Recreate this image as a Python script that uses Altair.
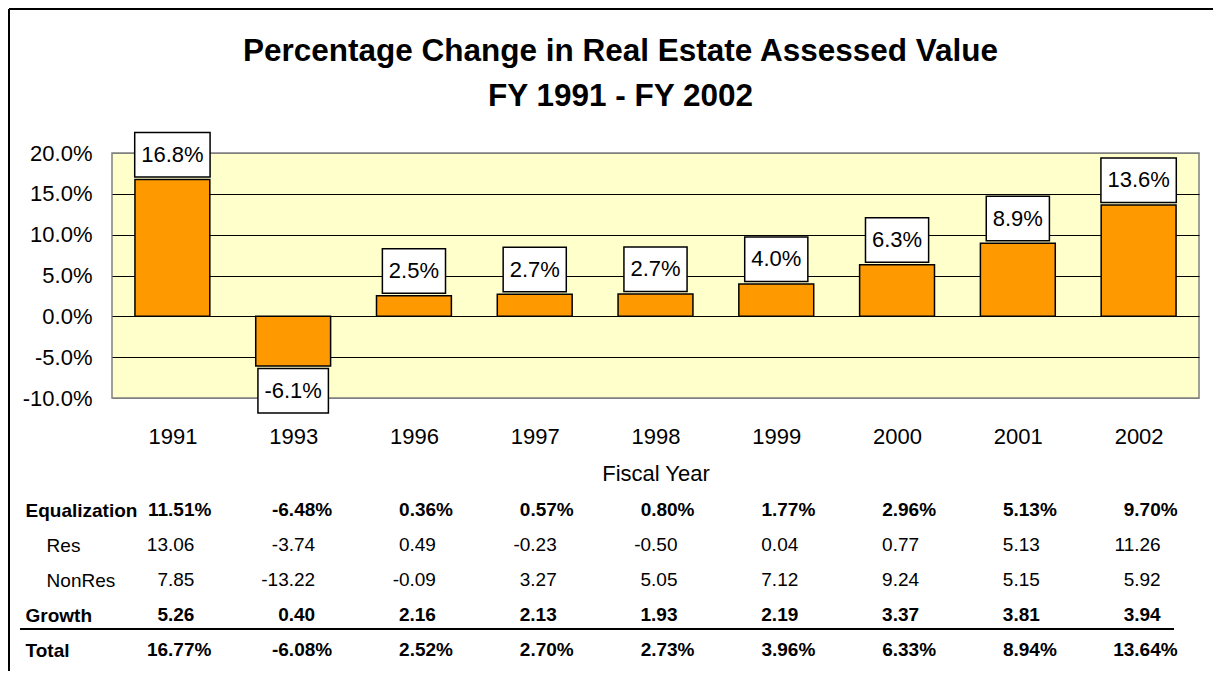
import altair as alt
import pandas as pd

# ---------------- data ----------------
years = ['1991', '1993', '1996', '1997', '1998', '1999', '2000', '2001', '2002']
total = [16.77, -6.08, 2.52, 2.70, 2.73, 3.96, 6.33, 8.94, 13.64]
equalization = [11.51, -6.48, 0.36, 0.57, 0.80, 1.77, 2.96, 5.13, 9.70]
res = [13.06, -3.74, 0.49, -0.23, -0.50, 0.04, 0.77, 5.13, 11.26]
nonres = [7.85, -13.22, -0.09, 3.27, 5.05, 7.12, 9.24, 5.15, 5.92]
growth = [5.26, 0.40, 2.16, 2.13, 1.93, 2.19, 3.37, 3.81, 3.94]
row_names = ['Equalization', 'Res', 'NonRes', 'Growth', 'Total']
y_ticks = [-10, -5, 0, 5, 10, 15, 20]
title_lines = ['Percentage Change in Real Estate Assessed Value', 'FY 1991 - FY 2002']

# ---------------- layout constants ----------------
W, H = 1087, 245
PXU = W / len(years)          # pixels per category unit
BAR_HALF = 0.31
FONT = 'Liberation Sans'
MINUS = '\u2212'
PLOT_BG = '#FFFFCC'


def fmt(expr, spec):
    # d3-format emits a unicode minus; the reference uses a plain hyphen
    return f"replace(format({expr}, '{spec}'), '{MINUS}', '-')"


bars_df = pd.DataFrame({'idx': list(range(len(years))), 'year': years, 'v': total})
rows_data = {'Equalization': equalization, 'Res': res, 'NonRes': nonres,
             'Growth': growth, 'Total': total}
table_df = pd.DataFrame([{'idx': i, 'row': r, 'val': vals[i]}
                         for r, vals in rows_data.items() for i in range(len(years))])
deco_df = pd.DataFrame({'a': [0]})

year_expr = "[" + ",".join(f"'{y}'" for y in years) + "][datum.value]"

x_scale = alt.Scale(domain=[-0.5, len(years) - 0.5], nice=False, zero=False)
x_axis = alt.Axis(values=list(range(len(years))), labelExpr=year_expr, title='Fiscal Year',
                  grid=False, domain=False, ticks=False, tickSize=0, labelPadding=28,
                  labelFontSize=22, labelColor='black', labelFont=FONT, labelFlush=False,
                  labelOverlap=False, titleFontSize=22, titleFontWeight='normal',
                  titleColor='black', titleFont=FONT, titlePadding=16)

y_scale = alt.Scale(domain=[-10, 20], nice=False, zero=False)
y_axis = alt.Axis(values=y_ticks, labelExpr=fmt('datum.value', '.1f') + " + '%'", title=None,
                  domain=False, ticks=False, tickSize=0, labelPadding=20, labelFontSize=22,
                  labelColor='black', labelFont=FONT, labelFlush=False, labelOverlap=False,
                  gridColor={'condition': {'test': 'datum.value == 20 || datum.value == -10',
                                           'value': '#808080'}, 'value': 'black'},
                  gridWidth=1, gridOpacity=1)


def xq(field):
    return alt.X(field, type='quantitative', scale=x_scale, axis=x_axis)


def yq(field):
    return alt.Y(field, type='quantitative', scale=y_scale, axis=y_axis)


base = alt.Chart(bars_df)

bars = base.transform_calculate(
    x1=f"datum.idx - {BAR_HALF}", x2=f"datum.idx + {BAR_HALF}"
).mark_rect(fill='#FF9900', stroke='black', strokeWidth=1.5).encode(
    x=xq('x1'), x2='x2:Q', y=yq('v'), y2=alt.datum(0)
)

lab_calc = base.transform_calculate(
    lab=fmt('datum.v', '.1f') + " + '%'"
).transform_calculate(
    neg="datum.v < 0 ? 1 : 0"
).transform_calculate(
    em="0.556 * (length(datum.lab) - 2 - datum.neg) + 1.167 + 0.333 * datum.neg"
).transform_calculate(
    hw=f"(22 * datum.em + 13) / 2 / {PXU}"
).transform_calculate(
    bx1="datum.idx - datum.hw", bx2="datum.idx + datum.hw"
)

box_pos = lab_calc.transform_filter("datum.v >= 0").mark_rect(
    fill='white', stroke='black', strokeWidth=1.5, yOffset=-2.5, y2Offset=-47
).encode(x=xq('bx1'), x2='bx2:Q', y=yq('v'), y2='v:Q')

box_neg = lab_calc.transform_filter("datum.v < 0").mark_rect(
    fill='white', stroke='black', strokeWidth=1.5, yOffset=2.5, y2Offset=47
).encode(x=xq('bx1'), x2='bx2:Q', y=yq('v'), y2='v:Q')

txt_pos = lab_calc.transform_filter("datum.v >= 0").mark_text(
    dy=-24.7, fontSize=22, baseline='middle', align='center', color='black', font=FONT
).encode(x=xq('idx'), y=yq('v'), text='lab:N')

txt_neg = lab_calc.transform_filter("datum.v < 0").mark_text(
    dy=24.7, fontSize=22, baseline='middle', align='center', color='black', font=FONT
).encode(x=xq('idx'), y=yq('v'), text='lab:N')

# decorative frame and table separator
deco = alt.Chart(deco_df)
frame_v = deco.mark_rule(color='black', strokeWidth=2).encode(
    x=alt.value(-103), y=alt.value(-144), y2=alt.value(540))
frame_h = deco.mark_rule(color='black', strokeWidth=2).encode(
    x=alt.value(-103), x2=alt.value(1120), y=alt.value(-144))
sep = deco.mark_rule(color='black', strokeWidth=2).encode(
    x=alt.value(-92), x2=alt.value(1062), y=alt.value(476))

main = alt.layer(frame_v, frame_h, sep, bars, box_pos, box_neg, txt_pos, txt_neg)

# ---------------- table ----------------
INDENT = '\u200b' + '\u00a0' * 4
label_expr = ("(datum.value == 'Res' || datum.value == 'NonRes') ? "
              f"'{INDENT}' + datum.value : datum.value")
t_axis = alt.Axis(orient='left', title=None, domain=False, ticks=False, tickSize=0, grid=False,
                  labelAlign='left', labelPadding=87, labelFontSize=19, labelColor='black',
                  labelFont=FONT, labelBaseline='middle', labelExpr=label_expr,
                  labelOverlap=False,
                  labelFontWeight={'condition': {'test': "datum.value == 'Res' || datum.value == 'NonRes'",
                                                 'value': 'normal'}, 'value': 'bold'})
t_y = alt.Y('row:N', scale=alt.Scale(type='point', domain=row_names, range=[357, 497], padding=0),
            axis=t_axis)

tbase = alt.Chart(table_df)
t_pct = tbase.transform_filter("datum.row == 'Equalization' || datum.row == 'Total'").transform_calculate(
    txt=fmt('datum.val', '.2f') + " + '%'"
).mark_text(align='right', baseline='middle', dx=39, fontSize=19, fontWeight='bold',
            color='black', font=FONT).encode(x=xq('idx'), y=t_y, text='txt:N')
t_growth = tbase.transform_filter("datum.row == 'Growth'").transform_calculate(
    txt=fmt('datum.val', '.2f')
).mark_text(align='right', baseline='middle', dx=22, fontSize=19, fontWeight='bold',
            color='black', font=FONT).encode(x=xq('idx'), y=t_y, text='txt:N')
t_reg = tbase.transform_filter("datum.row == 'Res' || datum.row == 'NonRes'").transform_calculate(
    txt=fmt('datum.val', '.2f')
).mark_text(align='right', baseline='middle', dx=22, fontSize=19, fontWeight='normal',
            color='black', font=FONT).encode(x=xq('idx'), y=t_y, text='txt:N')

table = alt.layer(t_pct, t_growth, t_reg)

chart = alt.layer(main, table).resolve_scale(y='independent').properties(
    width=W, height=H,
    view=alt.ViewBackground(fill=PLOT_BG, stroke='#808080', strokeWidth=1.5),
    title=alt.TitleParams(text=title_lines, fontSize=31.5, fontWeight='bold', anchor='middle',
                          frame='group', offset=-104, lineHeight=45, dx=-35, color='black',
                          font=FONT),
    padding={'left': 104, 'top': 145, 'right': 14, 'bottom': 273},
    autosize=alt.AutoSizeParams(type='none'),
).configure_view(fill=PLOT_BG, stroke='#808080', strokeWidth=1.5).configure(font=FONT)

chart.save("out.html", embed_options={"renderer": "svg", "actions": False})
